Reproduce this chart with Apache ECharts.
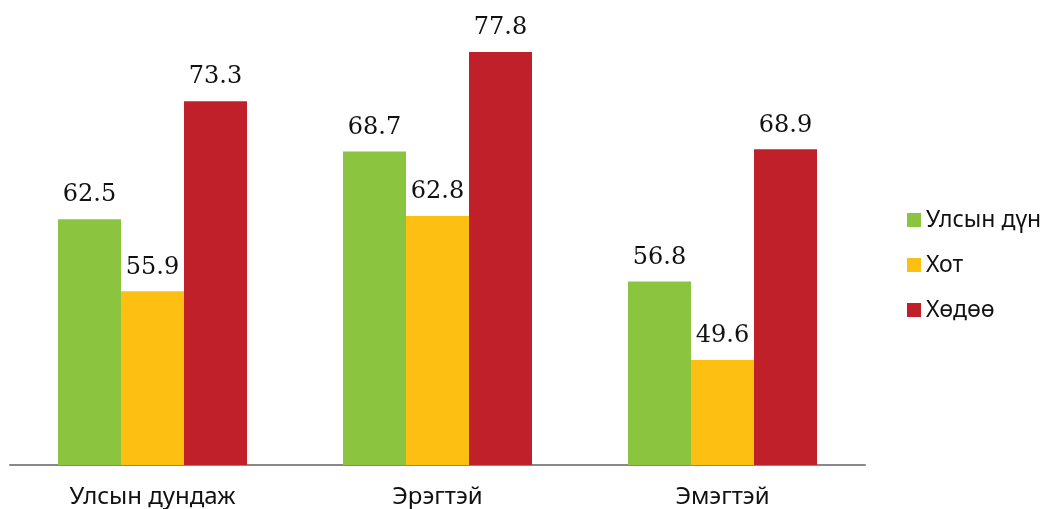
<!DOCTYPE html>
<html>
<head>
<meta charset="utf-8">
<script src="https://cdn.jsdelivr.net/npm/echarts@6/dist/echarts.min.js"></script>
<style>
  html, body { margin: 0; padding: 0; background: #fff; }
  #main { width: 1051px; height: 509px; }
</style>
</head>
<body>
<div id="main"></div>
<script>
var categories = ['Улсын дундаж', 'Эрэгтэй', 'Эмэгтэй'];
var seriesNames = ['Улсын дүн', 'Хот', 'Хөдөө'];
var national = [62.5, 68.7, 56.8];
var city = [55.9, 62.8, 49.6];
var rural = [73.3, 77.8, 68.9];
var colors = ['#8bc540', '#fdbf12', '#c0202a'];

var myChart = echarts.init(document.getElementById('main'));

function makeSeries(name, data, color) {
    return {
        name: name,
        type: 'bar',
        data: data,
        barWidth: 63,
        barGap: 0,
        itemStyle: { color: color },
        label: {
            show: true,
            position: 'top',
            distance: 12,
            fontFamily: 'DejaVu Serif',
            fontSize: 24,
            color: '#111'
        }
    };
}

myChart.setOption({
    backgroundColor: '#fff',
    animation: false,
    grid: { left: 10, right: 186, top: 28, bottom: 44 },
    legend: {
        orient: 'vertical',
        left: 902,
        top: 201,
        itemWidth: 14,
        itemHeight: 14,
        itemGap: 17,
        icon: 'rect',
        textStyle: { fontFamily: 'Noto Sans', fontSize: 23, color: '#111', lineHeight: 28 },
        data: seriesNames
    },
    xAxis: {
        type: 'category',
        data: categories,
        axisLine: { lineStyle: { color: '#888', width: 2 } },
        axisTick: { show: false },
        axisLabel: { fontFamily: 'Noto Sans', fontSize: 24, color: '#111', margin: 20 }
    },
    yAxis: {
        type: 'value',
        min: 40,
        max: 80,
        show: false,
        splitLine: { show: false }
    },
    series: [
        makeSeries(seriesNames[0], national, colors[0]),
        makeSeries(seriesNames[1], city, colors[1]),
        makeSeries(seriesNames[2], rural, colors[2])
    ]
});
</script>
</body>
</html>
